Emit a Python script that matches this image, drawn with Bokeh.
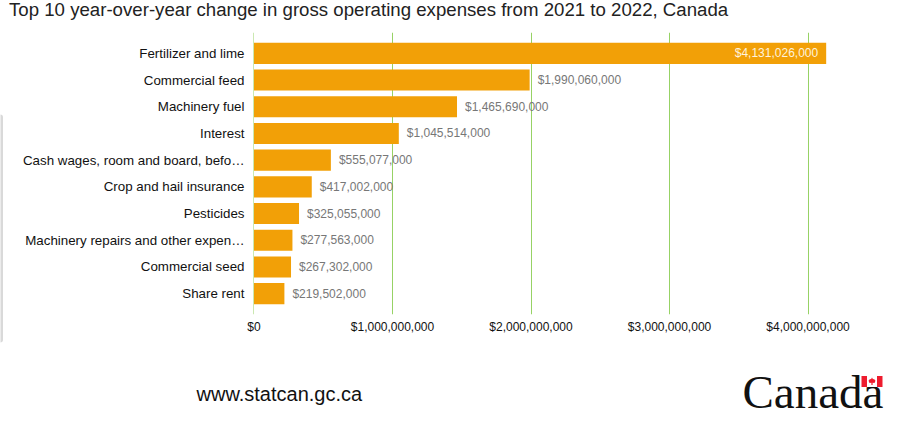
from bokeh.plotting import figure
from bokeh.embed import file_html
from bokeh.resources import INLINE
from bokeh.layouts import column, row
from bokeh.models import (ColumnDataSource, FactorRange, Range1d, FixedTicker, NumeralTickFormatter,
                          BoxAnnotation)
from bokeh.core.properties import value

categories = ["Fertilizer and lime", "Commercial feed", "Machinery fuel", "Interest",
              "Cash wages, room and board, befo…", "Crop and hail insurance", "Pesticides",
              "Machinery repairs and other expen…", "Commercial seed", "Share rent"]
values = [4131026000, 1990060000, 1465690000, 1045514000, 555077000,
          417002000, 325055000, 277563000, 267302000, 219502000]
x_ticks = [0, 1000000000, 2000000000, 3000000000, 4000000000]
title_text = "Top 10 year-over-year change in gross operating expenses from 2021 to 2022, Canada"

FONT = "Liberation Sans"
W, H = 898, 422
LEFT, BOTTOM = 253, 314
ABS = {"position": "absolute", "left": "0px", "top": "0px"}

p = figure(width=W, height=H, output_backend="svg", toolbar_location=None,
           y_range=FactorRange(factors=categories[::-1], range_padding=0.28, range_padding_units="absolute",
                               factor_padding=0),
           x_range=Range1d(-3.6e6, 4.2994e9),
           min_border_left=LEFT, min_border_right=49, min_border_top=32, min_border_bottom=H - BOTTOM,
           outline_line_color=None, background_fill_color="white")

p.ygrid.visible = False
p.xgrid.ticker = FixedTicker(ticks=x_ticks)
p.xgrid.grid_line_color = "#97d265"
p.xgrid.grid_line_width = 1

p.xaxis.ticker = FixedTicker(ticks=x_ticks)
p.xaxis.formatter = NumeralTickFormatter(format="$0,0")
p.xaxis.axis_line_color = None
p.xaxis.major_tick_line_color = None
p.xaxis.minor_tick_line_color = None
p.xaxis.major_label_text_font = FONT
p.xaxis.major_label_text_font_size = "12px"
p.xaxis.major_label_text_color = "#111111"
p.xaxis.major_label_standoff = -1

p.yaxis.axis_line_color = None
p.yaxis.major_tick_line_color = None
p.yaxis.minor_tick_line_color = None
p.yaxis.major_label_text_font = FONT
p.yaxis.major_label_text_font_size = "13.33px"
p.yaxis.major_label_text_color = "#111111"
p.yaxis.major_label_standoff = 3

src = ColumnDataSource(dict(cat=categories, val=values))
p.hbar(y="cat", right="val", left=0, height=0.79, source=src,
       fill_color="#f2a007", line_color=None)

labels = [f"${v:,}" for v in values]
outside = ColumnDataSource(dict(cat=categories[1:], val=values[1:], txt=labels[1:]))
inside = ColumnDataSource(dict(cat=categories[:1], val=values[:1], txt=labels[:1]))
p.text(x="val", y="cat", text="txt", source=outside, x_offset=8, text_align="left", text_baseline="middle",
       text_font=value(FONT), text_font_size="12px", text_color="#777777")
p.text(x="val", y="cat", text="txt", source=inside, x_offset=-8, text_align="right", text_baseline="middle",
       text_font=value(FONT), text_font_size="12px", text_color="#fff3dc")

# transparent page-sized layer for the title, footer, wordmark and flag
q = figure(width=W, height=H, output_backend="svg", toolbar_location=None,
           x_range=Range1d(0, W), y_range=Range1d(H, 0), min_border=0,
           x_axis_type=None, y_axis_type=None, outline_line_color=None,
           background_fill_alpha=0, border_fill_alpha=0)
q.grid.visible = False

q.text(x=[8.5], y=[9], text=[title_text], text_font=value(FONT), text_font_size="18.65px",
       text_color="#222222", text_baseline="middle")
q.text(x=[196], y=[393], text=["www.statcan.gc.ca"], text_font=value(FONT), text_font_size="20px",
       text_color="#111111", text_baseline="middle")
q.text(x=[742], y=[391], text=["Canada"], text_font=value("Liberation Serif"), text_font_size="47px",
       text_color="#111111", text_baseline="middle")

RED = "#ee1c2e"
q.quad(left=[866.5], right=[876.5], top=[375.5], bottom=[386.5], fill_color="white", line_color=None)
q.quad(left=[861, 876.5], right=[866.5, 882], top=[375.5, 375.5], bottom=[386.5, 386.5],
       fill_color=RED, line_color=None)
cx, cy = 871.5, 381
leaf_x = [0, 1, 2, 3.5, 2.5, 0.6, 0.6, -0.6, -0.6, -2.5, -3.5, -2, -1]
leaf_y = [-4, -2.2, -2.4, -0.8, 1.4, 1.2, 3.5, 3.5, 1.2, 1.4, -0.8, -2.4, -2.2]
q.patch([cx + a for a in leaf_x], [cy + b for b in leaf_y], fill_color=RED, line_color=None)

# grey rounded edge at the far left of the page
q.add_layout(BoxAnnotation(left=-3, right=2.5, top=114, bottom=342,
                           fill_color="#d9d9d9", fill_alpha=1, line_color=None, border_radius=3))

layout = column(p, row(q, margin=(-H, 0, 0, 0)), spacing=0, styles=ABS)
open("out.html", "w").write(file_html(layout, INLINE))
